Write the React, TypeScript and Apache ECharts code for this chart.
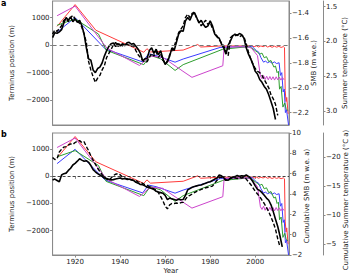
import React, { useEffect, useRef } from "react";
import * as echarts from "echarts";

// ---- data (terminus position in m) ----
const xTicks = [1920, 1940, 1960, 1980, 2000];
const terminusTicks = [-2000, -1000, 0, 1000];
const smbTicks = [-2.2, -2.0, -1.8, -1.6, -1.4];
const tempTicks = [1.5, 2.0, 2.5, 3.0];
const cumSmbTicks = [-2, 0, 2, 4, 6, 8, 10];
const cumTempTicks = [-20, -15, -10, -5];

const redTerminus = [[1912,680],[1920,1470],[1929.2,540],[1950.5,-260],[1951.9,-130],[1953.5,-250],[1968,-180],[1974.5,20],[1975.8,-70],[1985,-30],[1995,-30],[1996.5,-10],[1997.5,-50],[1998.5,-20],[1999.5,-60],[2000.5,-25],[2001.5,-70],[2002.5,-30],[2003.5,-60],[2004.5,-20],[2005.5,-70],[2006.5,-40],[2007.5,-80],[2008.5,-40],[2009.5,-75],[2010.5,-45],[2011.5,-85],[2012.5,-55],[2013,-90],[2013.3,-1650],[2013.7,-2050],[2014,-1900],[2014.6,-2500]];
const blueTerminus = [[1912,470],[1920,1000],[1933.4,-140],[1950,-610],[1952.6,-320],[1956,-380],[1964.4,-620],[1968,-505],[1984.4,-85],[1990,-70],[1997.5,-60],[1998.5,-40],[1999.5,-120],[2000.5,-200],[2001.5,-250],[2002.5,-450],[2003.7,-620],[2004.5,-580],[2005.5,-640],[2006.5,-600],[2007.5,-660],[2008.5,-610],[2009.5,-670],[2010.6,-640],[2011.2,-1100],[2011.8,-1000],[2012.4,-1700],[2012.9,-1600],[2013.4,-2450],[2013.9,-2350],[2014.8,-2900]];
const greenTerminus = [[1912,720],[1920,950],[1930.4,400],[1933.8,-185],[1950.5,-710],[1953.4,-372],[1958,-500],[1964.4,-920],[1968,-710],[1985.6,-150],[1996.6,-60],[1998,-80],[2000,-200],[2001,-260],[2002,-330],[2003,-290],[2004,-460],[2005,-420],[2006,-600],[2007,-560],[2008.3,-800],[2009,-760],[2009.7,-1000],[2010.3,-950],[2010.8,-1600],[2011.5,-1500],[2012.3,-2250],[2013.1,-2100],[2013.7,-2300],[2014.5,-2380]];
const magentaTerminus = [[1912,1065],[1920,1415],[1934.1,-110],[1948.6,-740],[1953.4,-400],[1958.9,-440],[1967.9,-950],[1971.9,-1170],[1985.6,-750],[1986.2,-70],[1996.7,-60],[1998.3,-110],[2001,-380],[2002.3,-1120],[2003,-1220],[2003.7,-1100],[2004.4,-1250],[2005.1,-1130],[2005.8,-1260],[2006.5,-1140],[2007.2,-1260],[2007.9,-1150],[2008.6,-1270],[2009.3,-1150],[2010,-1260],[2010.7,-1160],[2011.4,-1270],[2012.1,-1180],[2012.8,-1260]];

// panel a: annual SMB (solid) and summer temperature (dashed), in left-axis units
const smbYears = [1910,1911,1912,1913,1914,1915,1916,1917,1918,1919,1920,1921,1922,1923,1924,1925,1926,1927,1928,1929,1930,1931,1932,1933,1934,1935,1936,1937,1938,1939,1940,1941,1942,1943,1944,1945,1946,1947,1948,1949,1950,1951,1952,1953,1954,1955,1956,1957,1958,1959,1960,1961,1962,1963,1964,1965,1966,1967,1968,1969,1970,1971,1972,1973,1974,1975,1976,1977,1978,1979,1980,1981,1982,1983,1984,1985,1986,1987,1988,1989,1990,1991,1992,1993,1994,1995,1996,1997,1998,1999,2000,2001,2002,2003,2004,2005,2006,2007,2008,2009];
const smbValues = [270,450,430,480,560,800,1000,900,1020,850,950,830,900,700,400,-100,-500,-550,-900,-1000,-850,-800,-650,-400,-200,-50,50,80,-50,60,-30,50,-20,80,100,30,60,-40,-150,-300,-570,-500,-480,-200,-100,-300,-150,-350,-200,-500,-700,-600,-400,-100,-200,100,400,520,500,880,1000,900,1100,1180,1000,800,900,750,640,700,880,700,400,300,250,40,-100,-330,0,150,330,400,350,420,380,250,-100,-330,-500,-700,-950,-1050,-1250,-1350,-1500,-1600,-1800,-2050,-2300,-2700];
const tempYears = [1910,1911,1912,1913,1914,1915,1916,1917,1918,1919,1920,1921,1922,1923,1924,1925,1926,1927,1928,1929,1930,1931,1932,1933,1934,1935,1936,1937,1938,1939,1940,1941,1942,1943,1944,1945,1946,1947,1948,1949,1950,1951,1952,1953,1954,1955,1956,1957,1958,1959,1960,1961,1962,1963,1964,1965,1966,1967,1968,1969,1970,1971,1972,1973,1974,1975,1976,1977,1978,1979,1980,1981,1982,1983,1984,1985,1986,1987,1988,1989,1990,1991,1992,1993,1994,1995,1996,1997,1998,1999,2000,2001,2002,2003,2004,2005,2006,2007,2008,2009,2010];
const tempValues = [400,550,500,600,700,900,950,850,1000,1080,950,850,800,650,400,100,-600,-900,-1150,-1350,-1200,-1100,-900,-750,-450,-300,-150,0,100,-50,50,-30,60,20,0,-50,-20,-200,-350,-450,-550,-630,-600,-450,-300,-400,-250,-450,-300,-550,-650,-580,-350,-200,-50,200,450,580,700,1000,1120,1000,1150,1200,950,850,700,800,900,750,820,600,450,330,200,80,-30,-250,-380,270,350,330,380,300,350,300,50,-250,-500,-700,-850,-950,-1000,-1100,-1250,-1400,-1550,-1800,-1950,-2150,-2550];

// panel b: cumulative SMB (solid) and cumulative summer temperature (dashed), in left-axis units
const cumSmbYears = [1910,1911,1912,1913,1914,1915,1916,1917,1918,1919,1920,1921,1922,1923,1924,1925,1926,1927,1928,1929,1930,1931,1932,1933,1934,1935,1936,1937,1938,1939,1940,1941,1942,1943,1944,1945,1946,1947,1948,1949,1950,1951,1952,1953,1954,1955,1956,1957,1958,1959,1960,1961,1962,1963,1964,1965,1966,1967,1968,1969,1970,1971,1972,1973,1974,1975,1976,1977,1978,1979,1980,1981,1982,1983,1984,1985,1986,1987,1988,1989,1990,1991,1992,1993,1994,1995,1996,1997,1998,1999,2000,2001,2002,2003,2004,2005,2006,2007,2008,2009,2010,2011,2012];
const cumSmbValues = [-130,-100,-150,-200,50,100,120,220,300,420,480,560,650,600,560,580,520,400,250,170,100,50,0,-60,-80,-110,-130,-120,-100,-80,-60,-100,-80,-110,-100,-130,-150,-220,-250,-300,-310,-350,-400,-420,-450,-480,-550,-580,-600,-620,-700,-860,-800,-830,-850,-880,-840,-860,-850,-700,-500,-450,-400,-370,-350,-330,-320,-280,-250,-220,-200,-150,-100,-70,50,20,-50,-130,-140,-80,-30,-10,30,0,20,10,50,0,-80,-200,-350,-480,-520,-600,-700,-800,-880,-1050,-1300,-1580,-1850,-2200,-2600];
const cumTempYears = [1910,1911,1912,1913,1914,1915,1916,1917,1918,1919,1920,1921,1922,1923,1924,1925,1926,1927,1928,1929,1930,1931,1932,1933,1934,1935,1936,1937,1938,1939,1940,1941,1942,1943,1944,1945,1946,1947,1948,1949,1950,1951,1952,1953,1954,1955,1956,1957,1958,1959,1960,1961,1962,1963,1964,1965,1966,1967,1968,1969,1970,1971,1972,1973,1974,1975,1976,1977,1978,1979,1980,1981,1982,1983,1984,1985,1986,1987,1988,1989,1990,1991,1992,1993,1994,1995,1996,1997,1998,1999,2000,2001,2002,2003,2004,2005,2006,2007,2008,2009,2010,2011];
const cumTempValues = [700,620,650,900,1000,1080,1100,1150,1200,1180,1250,1300,1320,1250,1280,1100,950,750,600,450,300,180,60,-30,-100,-140,-60,30,80,100,60,-20,-60,-90,-100,-120,-150,-160,-200,-230,-260,-300,-330,-380,-420,-460,-500,-600,-750,-900,-1100,-1200,-1050,-1000,-1000,-980,-1000,-970,-960,-850,-740,-700,-650,-600,-550,-520,-480,-450,-420,-400,-380,-360,-250,-150,-50,-30,-80,-150,-120,-60,-20,-50,-80,-40,-60,-30,-100,-200,-300,-420,-550,-650,-750,-880,-1000,-1150,-1300,-1500,-1700,-1950,-2300,-2600];

const FONT = "DejaVu Sans";
const TXT = "#222";
const SPINE = "#8a8a8a";
const X_MIN = 1910, X_MAX = 2015;
const T_MIN = -2900, T_MAX = 1600;

const zip = (xs: number[], ys: number[]) => xs.map((x, i) => [x, ys[i]]);
const minus = (s: string) => s.replace("-", "\u2212");

function buildOption() {
  const labelStyle = { fontFamily: FONT, fontSize: 7, color: TXT };
  const nameStyle = { fontFamily: FONT, fontSize: 7, color: TXT };
  const line = { lineStyle: { color: SPINE, width: 1 } };

  const colored = [
    { data: redTerminus, color: "#ff3b3b" },
    { data: blueTerminus, color: "#3b3bff" },
    { data: greenTerminus, color: "#2e9e2e" },
    { data: magentaTerminus, color: "#cc44cc" },
  ];

  const series: any[] = [];
  [0, 1].forEach((p) => {
    const xi = p;
    const yi = p === 0 ? 0 : 3;
    colored.forEach((c, k) => {
      const s: any = {
        type: "line", xAxisIndex: xi, yAxisIndex: yi, data: c.data,
        showSymbol: false, symbol: "none",
        lineStyle: { color: c.color, width: 1 }, itemStyle: { color: c.color },
        silent: true, z: 2,
      };
      if (k === 0) {
        s.markLine = {
          silent: true, symbol: ["none", "none"], label: { show: false },
          data: [{ yAxis: 0 }],
          lineStyle: p === 0
            ? { color: "#777", type: [4, 3], width: 1.2 }
            : { color: "#111", type: [3, 2], width: 0.8 },
        };
      }
      series.push(s);
    });
    const dashed = p === 0 ? zip(tempYears, tempValues) : zip(cumTempYears, cumTempValues);
    const solid = p === 0 ? zip(smbYears, smbValues) : zip(cumSmbYears, cumSmbValues);
    series.push({
      type: "line", xAxisIndex: xi, yAxisIndex: yi, data: dashed, showSymbol: false, symbol: "none",
      lineStyle: { color: "#000", width: 1.4, type: [4, 2] }, silent: true, z: 3,
    });
    series.push({
      type: "line", xAxisIndex: xi, yAxisIndex: yi, data: solid, showSymbol: false, symbol: "none",
      lineStyle: { color: "#000", width: 1.6 }, silent: true, z: 4,
    });
  });

  const leftAxis = (grid: number) => ({
    type: "value", gridIndex: grid, position: "left", min: T_MIN, max: T_MAX,
    axisLine: { show: true, ...line },
    axisTick: { show: true, length: 2.5, customValues: terminusTicks, lineStyle: { color: SPINE } },
    axisLabel: { ...labelStyle, margin: 3, customValues: terminusTicks, formatter: (v: number) => minus(String(v)) },
    splitLine: { show: false },
    name: "Terminus position (m)", nameLocation: "middle", nameRotate: 90, nameGap: 23, nameTextStyle: nameStyle,
  });

  const rightAxis = (grid: number, offset: number, min: number, max: number, ticks: number[], fmt: (v: number) => string, inverse = false) => ({
    type: "value", gridIndex: grid, position: "right", offset, min, max, inverse,
    axisLine: { show: true, onZero: false, ...line },
    axisTick: { show: true, length: 2.5, customValues: ticks, lineStyle: { color: SPINE } },
    axisLabel: { ...labelStyle, margin: 3, customValues: ticks, formatter: fmt },
    splitLine: { show: false },
  });

  const vName = (text: string, x: number, y: number) => ({
    type: "text", x, y, rotation: Math.PI / 2, silent: true,
    style: { text, fontFamily: FONT, fontSize: 7, fill: TXT, align: "center", verticalAlign: "middle" },
  });

  return {
    animation: false,
    grid: [
      { left: 35, right: 61, top: 1, height: 124, show: true, borderColor: SPINE, borderWidth: 1, backgroundColor: "transparent" },
      { left: 35, right: 61, top: 133, height: 125, show: true, borderColor: SPINE, borderWidth: 1, backgroundColor: "transparent" },
    ],
    xAxis: [
      {
        type: "value", gridIndex: 0, min: X_MIN, max: X_MAX,
        axisLine: { show: true, onZero: false, ...line },
        axisTick: { show: false }, axisLabel: { show: false }, splitLine: { show: false },
      },
      {
        type: "value", gridIndex: 1, min: X_MIN, max: X_MAX,
        axisLine: { show: true, onZero: false, ...line },
        axisTick: { show: true, length: 2.5, customValues: xTicks, lineStyle: { color: SPINE } },
        axisLabel: { ...labelStyle, margin: 3, customValues: xTicks, formatter: (v: number) => String(v) },
        splitLine: { show: false },
        name: "Year", nameLocation: "middle", nameGap: 12, nameTextStyle: nameStyle,
      },
      {
        type: "value", gridIndex: 1, position: "top", min: X_MIN, max: X_MAX,
        axisLine: { show: false },
        axisTick: { show: true, inside: true, length: 2.5, customValues: xTicks, lineStyle: { color: SPINE } },
        axisLabel: { show: false }, splitLine: { show: false },
      },
    ],
    yAxis: [
      leftAxis(0),
      rightAxis(0, 0, -2.3, -1.3, smbTicks, (v) => minus(v.toFixed(1))),
      rightAxis(0, 34, 1.42, 3.2, tempTicks, (v) => v.toFixed(1), true),
      leftAxis(1),
      rightAxis(1, 0, -2, 10, cumSmbTicks, (v) => minus(String(v))),
      rightAxis(1, 34, -24.2, -3.1, cumTempTicks, (v) => minus(String(v)), true),
    ],
    graphic: [
      { type: "text", left: 1, top: -1, style: { text: "a", fontFamily: FONT, fontSize: 8, fontWeight: "bold", fill: "#000" } },
      { type: "text", left: 1, top: 130, style: { text: "b", fontFamily: FONT, fontSize: 8, fontWeight: "bold", fill: "#000" } },
      vName("SMB (m w.e.)", 314, 63),
      vName("Summer temperature (\u00b0C)", 345, 63),
      vName("Cumulative SMB (m w.e. a)", 307, 196),
      vName("Cumulative Summer temperature (\u00b0C a)", 346, 200),
    ],
    series,
  };
}

export default function App() {
  const ref = useRef<HTMLDivElement>(null);
  useEffect(() => {
    if (!ref.current) return;
    const chart = echarts.init(ref.current, null, { renderer: "svg" });
    chart.setOption(buildOption() as any);
    return () => chart.dispose();
  }, []);
  return <div ref={ref} style={{ position: "absolute", left: 0, top: 0, width: 350, height: 275, background: "#fff" }} />;
}
